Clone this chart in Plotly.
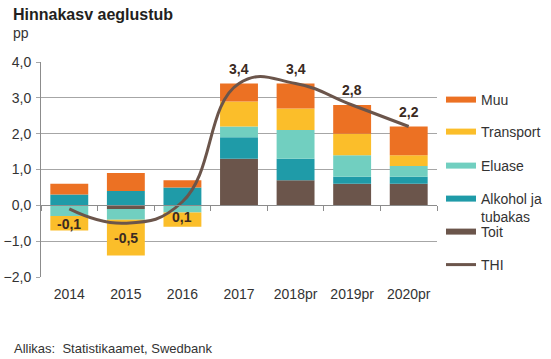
import plotly.graph_objects as go

categories = ["2014", "2015", "2016", "2017", "2018pr", "2019pr", "2020pr"]
toit = [0.0, -0.1, 0.0, 1.3, 0.7, 0.6, 0.6]
alkohol = [0.3, 0.4, 0.5, 0.6, 0.6, 0.2, 0.2]
eluase = [-0.3, -0.3, -0.2, 0.3, 0.8, 0.6, 0.3]
transport = [-0.4, -1.0, -0.4, 0.7, 0.6, 0.6, 0.3]
muu = [0.3, 0.5, 0.2, 0.5, 0.7, 0.8, 0.8]
thi = [-0.1, -0.5, 0.1, 3.4, 3.4, 2.8, 2.2]
thi_labels = ["-0,1", "-0,5", "0,1", "3,4", "3,4", "2,8", "2,2"]
label_below = [True, True, True, False, False, False, False]

C_TOIT = "#6B554B"
C_ALK = "#1F9BA8"
C_ELU = "#71CFC0"
C_TRA = "#FBBE2A"
C_MUU = "#EC7123"
FONT = "Liberation Sans, Arial, sans-serif"

fig = go.Figure()
series = [("Toit", toit, C_TOIT), ("Alkohol ja<br>tubakas", alkohol, C_ALK),
          ("Eluase", eluase, C_ELU), ("Transport", transport, C_TRA), ("Muu", muu, C_MUU)]
for name, vals, col in series:
    fig.add_trace(go.Bar(x=categories, y=vals, name=name, marker=dict(color=col, line=dict(width=0)),
                         showlegend=False, width=0.67))

fig.add_trace(go.Scatter(x=categories, y=thi, mode="lines",
                         line=dict(color=C_TOIT, width=3, shape="spline", smoothing=1.3),
                         showlegend=False, cliponaxis=False))

# legend entries, each in its own legend box
legend_items = [("Muu", C_MUU, 6, 100), ("Transport", C_TRA, 6, 132), ("Eluase", C_ELU, 6, 166),
                ("Alkohol ja<br>tubakas", C_ALK, 6, 208), ("Toit", C_TOIT, 6, 232), ("THI", C_TOIT, 3, 265)]
legend_layouts = {}
for i, (name, col, w, ypix) in enumerate(legend_items):
    lname = "legend" if i == 0 else "legend%d" % (i + 1)
    fig.add_trace(go.Scatter(x=[None], y=[None], mode="lines", name=name, legend=lname,
                             line=dict(color=col, width=w), showlegend=True))
    legend_layouts[lname] = dict(x=1 + 4/396, xanchor="left", y=(277 - ypix)/215, yanchor="middle",
                                 font=dict(size=14, color="#333333"), bgcolor="rgba(0,0,0,0)",
                                 itemwidth=30, valign="top", borderwidth=0)

# secondary axis to draw tick marks on the zero line
fig.add_trace(go.Scatter(x=[None], y=[None], xaxis="x2", showlegend=False))

annotations = []
for i, (v, t, below) in enumerate(zip(thi, thi_labels, label_below)):
    annotations.append(dict(x=i, y=v, xref="x", yref="y", text="<b>" + t + "</b>", showarrow=False,
                            yshift=-15 if below else 15, xanchor="center", yanchor="middle",
                            font=dict(size=14, color="#3A2A22")))

annotations += [
    dict(text="<b>Hinnakasv aeglustub</b>", xref="paper", yref="paper", x=-30/396, y=1 + 48/215,
         xanchor="left", yanchor="middle", showarrow=False, font=dict(size=16, color="#231F20")),
    dict(text="pp", xref="paper", yref="paper", x=-30/396, y=1 + 29/215,
         xanchor="left", yanchor="middle", showarrow=False, font=dict(size=14, color="#333333")),
    dict(text="Allikas:  Statistikaamet, Swedbank", xref="paper", yref="paper", x=-29/396, y=-71/215,
         xanchor="left", yanchor="middle", showarrow=False, font=dict(size=13, color="#333333")),
]

fig.update_layout(
    width=551, height=359,
    barmode="relative",
    separators=", ",
    plot_bgcolor="white", paper_bgcolor="white",
    margin=dict(l=41, r=114, t=62, b=82, autoexpand=False),
    font=dict(family=FONT, size=14, color="#333333"),
    xaxis=dict(type="category", range=[-0.5, 6.5], showgrid=False, showline=False, ticks="",
               tickfont=dict(size=14, color="#333333"), automargin=False, ticklabelstandoff=7),
    xaxis2=dict(overlaying="x", anchor="free", position=1/3, range=[-0.5, 6.5],
                tickvals=[-0.5, 0.5, 1.5, 2.5, 3.5, 4.5, 5.5, 6.5], ticks="outside", ticklen=5,
                tickcolor="#8C8C8C", showticklabels=False, showline=True, linecolor="#8C8C8C",
                showgrid=False, zeroline=False, automargin=False),
    yaxis=dict(range=[-2, 4], dtick=1, tickformat=".1f", showgrid=True, gridcolor="#A6A6A6",
               gridwidth=1, zeroline=False, showline=True, linecolor="#8C8C8C",
               ticks="outside", ticklen=4, tickcolor="#A6A6A6", automargin=False,
               tickfont=dict(size=14, color="#333333"), ticklabelstandoff=2),
    showlegend=True,
    annotations=annotations,
    **legend_layouts,
)

fig.write_html("out.html", config={"displayModeBar": False},
               post_script="document.body.style.margin='0';")
